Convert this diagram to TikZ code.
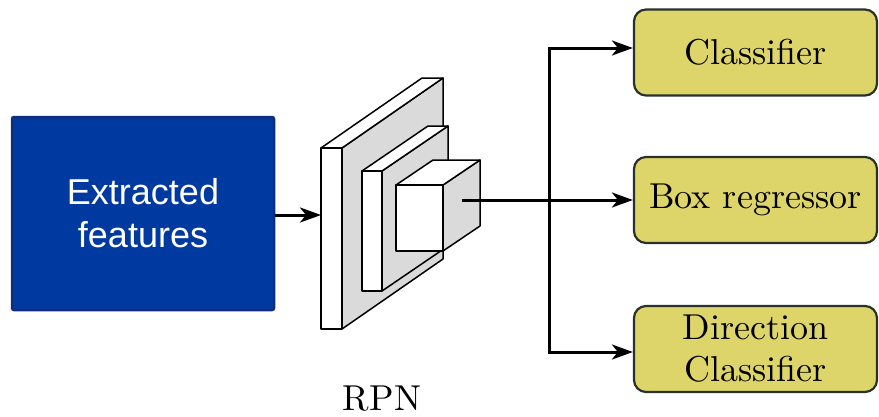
\documentclass[tikz,border=0pt]{standalone}
\usepackage{fontspec}
\setmainfont{lmroman10-regular}[Extension=.otf]
\newfontfamily\sansf{Liberation Sans}
\usetikzlibrary{arrows.meta}
\definecolor{featblue}{RGB}{0,58,160}
\definecolor{featedge}{RGB}{18,44,122}
\definecolor{headfill}{RGB}{222,213,106}
\definecolor{headedge}{RGB}{40,50,40}
\definecolor{sidegray}{RGB}{218,218,218}
\tikzset{
  feat/.style={draw=featedge, line width=2.5pt, fill=featblue, rounded corners=2pt,
    minimum width=262pt, minimum height=193pt, text=white, align=center,
    font=\sansf\fontsize{36}{43}\selectfont},
  head/.style={draw=headedge, line width=2.2pt, fill=headfill, rounded corners=12pt,
    minimum width=243pt, minimum height=86pt, align=center,
    font=\fontsize{36}{42}\selectfont},
  tip/.tip={Stealth[length=21pt,width=15pt,inset=6pt]},
  arr/.style={line width=3pt, -tip},
  dblarr/.style={line width=3pt, line join=miter, tip-tip},
  plate/.style={draw=black, line width=1.5pt, line join=round},
}
\begin{document}
\begin{tikzpicture}[x=1pt,y=-1pt]
\useasboundingbox (0,0) rectangle (879,416);

% input box
\node[feat] (feat) at (143,213.5) {Extracted\\features};

% RPN stack: big plate
\fill[sidegray] (342,148) -- (443,78) -- (443,259) -- (342,329) -- cycle;
\draw[plate] (342,148) -- (443,78) -- (443,259) -- (342,329);
\draw[plate, fill=white] (321,148) -- (422,78) -- (443,78) -- (342,148) -- cycle;
\draw[plate, fill=white] (321,148) rectangle (342,329);
% middle plate
\fill[sidegray] (382,171) -- (448,126) -- (448,246) -- (382,291) -- cycle;
\draw[plate] (382,171) -- (448,126) -- (448,246) -- (382,291);
\draw[plate, fill=white] (362,171) -- (428,126) -- (448,126) -- (382,171) -- cycle;
\draw[plate, fill=white] (362,171) rectangle (382,291);
% small cube
\fill[sidegray] (443,185) -- (480,160) -- (480,226) -- (443,251) -- cycle;
\draw[plate] (443,185) -- (480,160) -- (480,226) -- (443,251);
\draw[plate, fill=white] (396,185) -- (433,160) -- (480,160) -- (443,185) -- cycle;
\draw[plate, fill=white] (396,185) rectangle (443,251);

\node[font=\fontsize{36}{43}\selectfont, anchor=base, inner sep=0pt] (rpn) at (382,410) {RPN};

\coordinate (rpnin) at (321,215);
\coordinate (rpnout) at (462,200);
\coordinate (bt) at (549,48);
\coordinate (bb) at (549,352);

% heads
\node[head] (cls) at (755.5,52.5) {Classifier};
\node[head] (reg) at (755.5,200) {Box regressor};
\node[head] (dir) at (755.5,349) {Direction\\Classifier};

% connectors
\draw[arr] (feat.east |- rpnin) -- (rpnin);
\draw[arr] (rpnout) -- (reg.west);
\draw[dblarr] (cls.west |- bt) -- (bt) -- (bb) -- (dir.west |- bb);
\end{tikzpicture}
\end{document}
